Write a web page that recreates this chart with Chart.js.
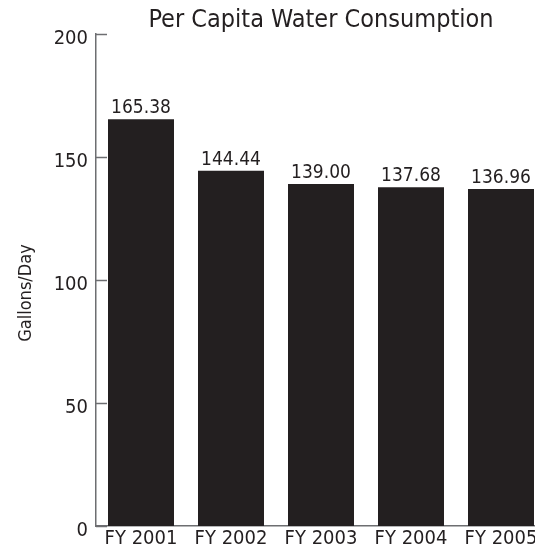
<!DOCTYPE html>
<html>
<head>
<meta charset="utf-8">
<script src="https://cdn.jsdelivr.net/npm/chart.js@4/dist/chart.umd.min.js"></script>
<style>
html,body{margin:0;padding:0;background:#fff;overflow:hidden;}
#wrap{width:535px;height:560px;overflow:hidden;position:relative;}
canvas{display:block;}
</style>
</head>
<body>
<div id="wrap"><canvas id="c" width="560" height="560"></canvas></div>
<script>
const categories = ["FY 2001", "FY 2002", "FY 2003", "FY 2004", "FY 2005"];
const consumption = [165.38, 144.44, 139.00, 137.68, 136.96];
const valueLabels = ["165.38", "144.44", "139.00", "137.68", "136.96"];
const yTicks = [0, 50, 100, 150, 200];
const chartTitle = "Per Capita Water Consumption";
const yAxisTitle = "Gallons/Day";

const FONT = "'Liberation Sans Narrow', 'DejaVu Sans Condensed', 'Roboto Condensed', sans-serif";
const TEXT = "#231f20";
const AXIS = "#6d6e71";
const BAR = "#231f20";

const extras = {
  id: 'extras',
  afterDatasetsDraw(chart) {
    const ctx = chart.ctx;
    const y = chart.scales.y;
    const area = chart.chartArea;
    ctx.save();
    // inward ticks
    ctx.strokeStyle = AXIS;
    ctx.lineWidth = 1.5;
    yTicks.forEach(v => {
      const py = Math.round(y.getPixelForValue(v)) + 0.5;
      ctx.beginPath();
      ctx.moveTo(area.left, py);
      ctx.lineTo(area.left + 11, py);
      ctx.stroke();
    });
    // value labels
    ctx.fillStyle = TEXT;
    ctx.font = "19px " + FONT;
    ctx.textAlign = "center";
    ctx.textBaseline = "alphabetic";
    const meta = chart.getDatasetMeta(0);
    meta.data.forEach((bar, i) => {
      ctx.fillText(valueLabels[i], bar.x, bar.y - 6);
    });
    // y axis title
    ctx.font = "18px " + FONT;
    ctx.translate(31, y.getPixelForValue(0) - 233);
    ctx.rotate(-Math.PI / 2);
    ctx.textAlign = "center";
    ctx.textBaseline = "alphabetic";
    ctx.fillText(yAxisTitle, 0, 0);
    ctx.restore();
  }
};

new Chart(document.getElementById('c'), {
  type: 'bar',
  data: {
    labels: categories,
    datasets: [{
      data: consumption,
      backgroundColor: BAR,
      borderWidth: 0,
      categoryPercentage: 1.0,
      barPercentage: 66 / 90
    }]
  },
  options: {
    responsive: false,
    animation: false,
    devicePixelRatio: 1,
    layout: { padding: { left: 0, right: 14, top: 0, bottom: 0 } },
    plugins: {
      legend: { display: false },
      tooltip: { enabled: false },
      title: {
        display: true,
        fullSize: false,
        text: chartTitle,
        color: TEXT,
        font: { family: FONT, size: 25, weight: 'normal', lineHeight: 1.0 },
        padding: { top: 8, bottom: 1 }
      }
    },
    scales: {
      x: {
        grid: { display: false, drawTicks: false },
        border: { display: true, color: AXIS, width: 1.5 },
        ticks: { color: TEXT, font: { family: FONT, size: 20 }, padding: 1, maxRotation: 0 },
        afterFit(s) { s.height = 34; }
      },
      y: {
        min: 0, max: 200,
        grid: { display: false, drawTicks: false },
        border: { display: true, color: AXIS, width: 1.5 },
        ticks: { stepSize: 50, color: TEXT, font: { family: FONT, size: 20 }, padding: 8, labelOffset: 5 },
        afterFit(s) { s.width = 96; }
      }
    }
  },
  plugins: [extras]
});
</script>
</body>
</html>
